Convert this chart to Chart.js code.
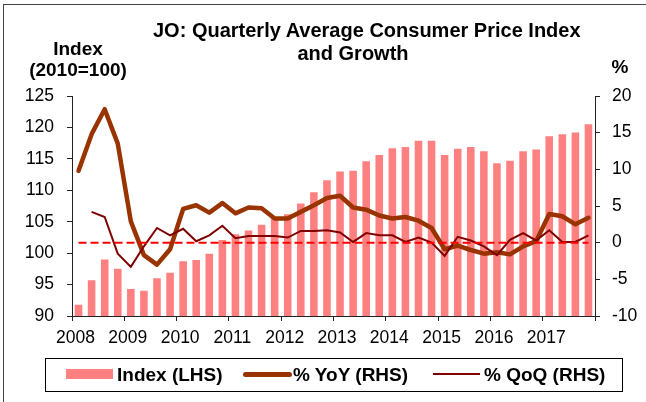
<!DOCTYPE html>
<html>
<head>
<meta charset="utf-8">
<script src="https://cdn.jsdelivr.net/npm/chart.js@4.4.1/dist/chart.umd.min.js"></script>
<style>
    body { margin: 0; width: 646px; height: 402px; overflow: hidden; background: #fff; font-family: "Liberation Sans", Arial, sans-serif; }
    #cadre { position: absolute; left: 3px; top: 4px; width: 700px; height: 500px; border: 1.5px solid #444; }
    #zone { position: absolute; left: 0; top: 0; width: 646px; height: 402px; }
    .txt { position: absolute; font-weight: bold; color: #000; white-space: nowrap; }
    #titre { left: 153px; width: 400px; top: 19px; font-size: 20px; line-height: 22.7px; text-align: center; }
    #axeGauche { left: 0; width: 156px; top: 38px; font-size: 19px; line-height: 21px; text-align: center; }
    #axeDroit { left: 600px; width: 40px; top: 55.6px; font-size: 19px; line-height: 21px; text-align: center; }
    #legende { position: absolute; left: 45px; top: 358px; width: 576px; height: 32px; border: 1px solid #000; }
    .leg { position: absolute; }
    .legTxt { position: absolute; top: 5px; font-size: 19px; line-height: 21px; font-weight: bold; white-space: nowrap; }
</style>
</head>
<body>
<div id="cadre"></div>
<div id="zone"><canvas id="graphique" width="646" height="402"></canvas></div>
<div class="txt" id="titre">JO: Quarterly Average Consumer Price Index<br>and Growth</div>
<div class="txt" id="axeGauche">Index<br>(2010=100)</div>
<div class="txt" id="axeDroit">%</div>
<div id="legende">
    <div class="leg" style="left:20px; top:10px; width:47px; height:10px; background:#FF8080;"></div>
    <div class="legTxt" style="left:71px;">Index (LHS)</div>
    <div class="leg" style="left:197px; top:13px; width:49px; height:5px; border-radius:3px; background:#993300;"></div>
    <div class="legTxt" style="left:247px;">% YoY (RHS)</div>
    <div class="leg" style="left:387px; top:14px; width:47px; height:2px; background:#800000;"></div>
    <div class="legTxt" style="left:438px;">% QoQ (RHS)</div>
</div>
<script>
// données
const annees = ['2008', '2009', '2010', '2011', '2012', '2013', '2014', '2015', '2016', '2017'];
const trimestres = annees.flatMap(a => ['Q1', 'Q2', 'Q3', 'Q4'].map(q => a + q));

const indice = [91.8, 95.7, 99.0, 97.5, 94.3, 94.0, 96.0, 96.9, 98.7, 98.9,
    99.9, 102.1, 103.0, 103.6, 104.5, 105.5, 106.2, 107.9, 109.7, 111.6,
    113.0, 113.1, 114.6, 115.6, 116.7, 116.9, 117.9, 117.9, 115.6, 116.6,
    116.9, 116.2, 114.3, 114.7, 116.2, 116.5, 118.6, 118.9, 119.2, 120.5];

const glissementAnnuel = [9.8, 14.8, 18.2, 13.5, 2.9, -1.7, -3.0, -0.9, 4.6, 5.1,
    4.1, 5.4, 4.0, 4.8, 4.7, 3.3, 3.3, 4.2, 5.1, 6.1,
    6.4, 4.8, 4.5, 3.7, 3.3, 3.5, 3.0, 2.0, -0.9, -0.4,
    -1.0, -1.5, -1.3, -1.6, -0.5, 0.2, 3.9, 3.6, 2.5, 3.4];

const glissementTrim = [null, 4.2, 3.5, -1.5, -3.3, -0.5, 2.0, 1.0, 1.9, 0.2,
    1.0, 2.3, 0.6, 0.9, 0.9, 0.9, 0.7, 1.6, 1.6, 1.7,
    1.4, 0.1, 1.3, 1.0, 1.0, 0.1, 0.7, 0.0, -1.8, 0.8,
    0.3, -0.5, -1.7, 0.4, 1.3, 0.3, 1.7, 0.1, 0.1, 1.0];

// ligne de référence à 0 %, du premier au dernier trimestre
const ligneZero = [
    { x: trimestres[0], y: 0 },
    { x: trimestres[trimestres.length - 1], y: 0 }
];

Chart.defaults.font.family = '"Liberation Sans", Arial, sans-serif';
Chart.defaults.color = '#000';

const couleurAxe = '#222';

const ctx = document.getElementById('graphique').getContext('2d');
new Chart(ctx, {
    type: 'bar',
    data: {
        labels: trimestres,
        datasets: [
            {
                type: 'line',
                label: 'zero',
                data: ligneZero,
                yAxisID: 'yD',
                borderColor: '#FF0000',
                borderWidth: 2,
                borderDash: [8, 4],
                pointRadius: 0,
                order: 0
            },
            {
                type: 'line',
                label: '% QoQ (RHS)',
                data: glissementTrim,
                yAxisID: 'yD',
                borderColor: '#800000',
                borderWidth: 2,
                pointRadius: 0,
                tension: 0,
                order: 1
            },
            {
                type: 'line',
                label: '% YoY (RHS)',
                data: glissementAnnuel,
                yAxisID: 'yD',
                borderColor: '#993300',
                borderWidth: 4.5,
                borderJoinStyle: 'round',
                borderCapStyle: 'round',
                pointRadius: 0,
                tension: 0,
                order: 2
            },
            {
                label: 'Index (LHS)',
                data: indice,
                yAxisID: 'yG',
                backgroundColor: '#FF8080',
                categoryPercentage: 1,
                barPercentage: 0.58,
                order: 3
            }
        ]
    },
    options: {
        responsive: false,
        animation: false,
        layout: { padding: { top: 96, left: 0, right: 0, bottom: 0 } },
        plugins: {
            legend: { display: false },
            title: { display: false },
            tooltip: { enabled: false }
        },
        scales: {
            x: {
                offset: true,
                grid: {
                    offset: true,
                    drawOnChartArea: false,
                    tickLength: 5,
                    color: c => (c.index === undefined || c.index % 4 === 0) ? couleurAxe : 'rgba(0,0,0,0)'
                },
                border: { display: true, color: couleurAxe, width: 1 },
                ticks: {
                    autoSkip: false,
                    maxRotation: 0,
                    minRotation: 0,
                    padding: 7,
                    labelOffset: -3,
                    font: { size: 17.5 },
                    callback: (v, i) => i % 4 === 0 ? annees[i / 4] : ''
                },
                afterFit: s => { s.height = 86; }
            },
            yG: {
                position: 'left',
                min: 90,
                max: 125,
                grid: { drawOnChartArea: false, tickLength: 5, color: couleurAxe },
                border: { display: true, color: couleurAxe, width: 1 },
                ticks: { stepSize: 5, padding: 13, font: { size: 17.5 } },
                afterFit: s => { s.width = 72; }
            },
            yD: {
                position: 'right',
                min: -10,
                max: 20,
                grid: { drawOnChartArea: false, tickLength: 5, color: couleurAxe },
                border: { display: true, color: couleurAxe, width: 1 },
                ticks: { stepSize: 5, padding: 12, font: { size: 17.5 } },
                afterFit: s => { s.width = 51; }
            }
        }
    }
});
</script>
</body>
</html>
